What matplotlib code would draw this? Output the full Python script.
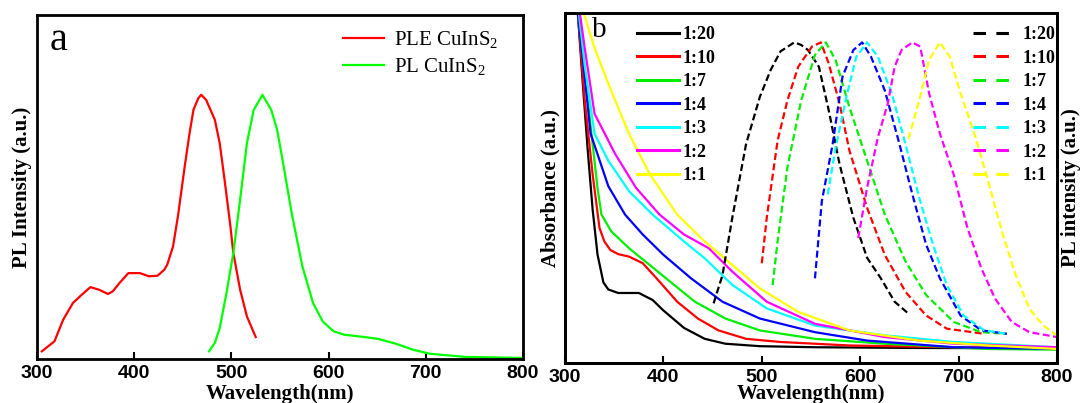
import numpy as np
import matplotlib
matplotlib.use('Agg')
import matplotlib.pyplot as plt

SERIF = 'Liberation Serif'
SANS = 'Liberation Sans'

plt.rcParams['lines.scale_dashes'] = False
plt.rcParams['font.family'] = SANS
plt.rcParams['font.weight'] = 'bold'

# ---------------------------------------------------------
# Panel a data (normalised to peak = 1)
# ---------------------------------------------------------
ple_wl = [305, 318, 327, 337, 346, 355, 364, 373, 378, 385, 394, 406, 415, 424, 431, 434,
          440, 445, 452, 457, 461, 466, 469, 474, 483, 488, 493, 499, 502, 509, 516, 525]
ple_int = [0.029, 0.067, 0.149, 0.212, 0.243, 0.272, 0.262, 0.246, 0.256, 0.288, 0.325, 0.325,
           0.313, 0.315, 0.338, 0.357, 0.426, 0.540, 0.729, 0.855, 0.943, 0.987, 1.0, 0.981,
           0.905, 0.817, 0.678, 0.502, 0.401, 0.262, 0.161, 0.083]

pl_wl = [477, 483, 488, 495, 502, 509, 516, 523, 532, 541, 547, 552, 562, 573, 584, 594,
         605, 616, 637, 651, 669, 687, 704, 740, 800]
pl_int = [0.029, 0.061, 0.117, 0.250, 0.401, 0.603, 0.817, 0.943, 1.0, 0.943, 0.868, 0.767,
          0.553, 0.351, 0.212, 0.142, 0.105, 0.092, 0.083, 0.076, 0.058, 0.035, 0.020, 0.008, 0.004]

# ---------------------------------------------------------
# Panel b data
# ---------------------------------------------------------
ratios = ['1:20', '1:10', '1:7', '1:4', '1:3', '1:2', '1:1']
colors = ['black', '#ff0000', '#00ee00', '#0000ff', '#00ffff', '#ff00ff', '#ffff00']

abs_wl = [
    [311, 313, 318, 323, 328, 333, 339, 344, 354, 375, 389, 400, 421, 442, 463, 498, 554, 650, 800],
    [311, 313, 320, 328, 335, 340, 346, 354, 365, 379, 393, 414, 435, 456, 484, 519, 589, 695, 800],
    [311, 313, 320, 328, 333, 337, 347, 365, 386, 407, 432, 463, 498, 554, 625, 730, 800],
    [311, 313, 318, 326, 344, 361, 379, 400, 428, 460, 498, 554, 607, 695, 800],
    [312, 314, 320, 330, 344, 365, 389, 421, 442, 470, 505, 554, 625, 695, 800],
    [313, 315, 320, 330, 351, 372, 396, 421, 446, 470, 505, 554, 625, 695, 800],
    [317, 319, 330, 344, 365, 386, 414, 442, 470, 498, 537, 589, 660, 730, 800],
]
abs_val = [
    [1.05, 1.0, 0.80, 0.61, 0.44, 0.31, 0.23, 0.21, 0.20, 0.20, 0.18, 0.15, 0.10, 0.069, 0.055, 0.048, 0.045, 0.043, 0.042],
    [1.05, 1.0, 0.75, 0.54, 0.386, 0.347, 0.323, 0.311, 0.304, 0.285, 0.242, 0.175, 0.127, 0.093, 0.069, 0.060, 0.050, 0.045, 0.042],
    [1.05, 1.0, 0.83, 0.626, 0.50, 0.424, 0.376, 0.328, 0.280, 0.232, 0.175, 0.127, 0.093, 0.069, 0.055, 0.040, 0.038],
    [1.05, 1.0, 0.87, 0.655, 0.505, 0.424, 0.367, 0.309, 0.242, 0.175, 0.127, 0.088, 0.064, 0.045, 0.040],
    [1.05, 1.0, 0.85, 0.655, 0.578, 0.491, 0.424, 0.347, 0.299, 0.223, 0.156, 0.107, 0.079, 0.060, 0.045],
    [1.05, 1.0, 0.90, 0.712, 0.597, 0.501, 0.424, 0.367, 0.328, 0.261, 0.175, 0.112, 0.074, 0.055, 0.045],
    [1.03, 1.0, 0.90, 0.798, 0.655, 0.54, 0.424, 0.347, 0.28, 0.213, 0.146, 0.093, 0.064, 0.050, 0.040],
]

pl_b_wl = [
    [451, 460, 470, 484, 498, 509, 519, 533, 540, 547, 558, 568, 579, 593, 607, 621, 635, 649],
    [500, 505, 516, 526, 537, 551, 560, 568, 579, 589, 607, 625, 646, 667, 688, 726],
    [511, 516, 526, 540, 554, 565, 575, 589, 607, 625, 646, 667, 695, 723, 749],
    [554, 561, 572, 582, 593, 602, 611, 625, 639, 653, 667, 681, 702, 723, 749],
    [567, 575, 586, 596, 607, 618, 632, 646, 660, 674, 688, 705, 726, 749],
    [598, 607, 618, 628, 635, 642, 653, 661, 670, 681, 695, 709, 723, 737, 754, 772, 800],
    [649, 660, 670, 681, 691, 702, 716, 730, 744, 758, 772, 786, 800],
]
pl_b_val = [
    [0.186, 0.274, 0.453, 0.683, 0.830, 0.914, 0.972, 1.0, 0.992, 0.976, 0.924, 0.788, 0.620, 0.453, 0.328, 0.264, 0.191, 0.154],
    [0.311, 0.453, 0.693, 0.819, 0.924, 0.987, 1.0, 0.934, 0.809, 0.663, 0.484, 0.337, 0.222, 0.148, 0.107, 0.091],
    [0.243, 0.379, 0.610, 0.819, 0.961, 1.0, 0.945, 0.798, 0.631, 0.463, 0.317, 0.212, 0.128, 0.096, 0.091],
    [0.264, 0.505, 0.683, 0.893, 0.976, 1.0, 0.955, 0.850, 0.693, 0.526, 0.369, 0.264, 0.148, 0.102, 0.091],
    [0.526, 0.672, 0.830, 0.955, 1.0, 0.955, 0.841, 0.683, 0.515, 0.369, 0.243, 0.148, 0.102, 0.091],
    [0.390, 0.547, 0.704, 0.809, 0.924, 0.976, 1.0, 0.987, 0.841, 0.715, 0.588, 0.421, 0.296, 0.201, 0.128, 0.096, 0.081],
    [0.699, 0.819, 0.945, 1.0, 0.955, 0.841, 0.715, 0.568, 0.410, 0.274, 0.169, 0.117, 0.086],
]

xticks = [300, 400, 500, 600, 700, 800]


def style_axis(ax):
    for sp in ax.spines.values():
        sp.set_linewidth(2)
    ax.set_xlim(300, 800)
    ax.set_xticks(xticks)
    ax.set_xticklabels([str(v) for v in xticks], fontfamily=SANS, fontweight='bold', fontsize=14)
    ax.set_yticks([])
    ax.tick_params(axis='x', direction='in', length=5, width=1.5, pad=4)


fig = plt.figure(figsize=(10.81, 4.03), dpi=100)

# ---------------------------------------------------------
# Panel a
# ---------------------------------------------------------
ax_a = fig.add_axes([0.0342, 0.1092, 0.4496, 0.8536])
ax_a.plot(ple_wl, ple_int, color='#ff0000', lw=1.6, label=r'PLE CuInS$_\mathregular{2}$')
ax_a.plot(pl_wl, pl_int, color='#00ff00', lw=1.6, label=r'PL CuInS$_\mathregular{2}$')
ax_a.set_ylim(0, 1.302)
style_axis(ax_a)
ax_a.text(0.026, 0.898, 'a', transform=ax_a.transAxes, fontsize=29, family=SERIF,
          fontweight='normal')
ax_a.text(-0.031, 0.5, 'PL Intensity (a.u.)', transform=ax_a.transAxes, rotation=90,
          ha='center', va='center', fontsize=15, fontweight='bold', family=SERIF)
ax_a.text(0.5, -0.103, 'Wavelength(nm)', transform=ax_a.transAxes, ha='center', va='center',
          fontsize=15, fontweight='bold', family=SERIF)
ax_a.legend(loc='upper left', bbox_to_anchor=(0.63, 0.958), frameon=False, borderpad=0,
            borderaxespad=0, handlelength=1.95, handletextpad=0.5, labelspacing=0.25,
            prop={'family': SERIF, 'size': 15, 'weight': 'normal'})

# ---------------------------------------------------------
# Panel b
# ---------------------------------------------------------
ax_b = fig.add_axes([0.5227, 0.0993, 0.4551, 0.8685])
ax_pl = ax_b.twinx()
for i in range(len(ratios)):
    ax_b.plot(abs_wl[i], abs_val[i], color=colors[i], lw=1.6, label=ratios[i])
for i in range(len(ratios)):
    ax_pl.plot(pl_b_wl[i], pl_b_val[i], color=colors[i], lw=1.6, dashes=(5, 2.5))
ax_b.set_ylim(0, 1.0)
ax_pl.set_ylim(0, 1.0917)
style_axis(ax_b)
ax_pl.set_yticks([])
for sp in ax_pl.spines.values():
    sp.set_linewidth(2)

ax_b.text(0.055, 0.931, 'b', transform=ax_b.transAxes, fontsize=21, family=SERIF,
          fontweight='normal')
ax_b.text(-0.030, 0.5, 'Absorbance (a.u.)', transform=ax_b.transAxes, rotation=90,
          ha='center', va='center', fontsize=15, fontweight='bold', family=SERIF)
ax_b.text(1.028, 0.5, 'PL intensity (a.u.)', transform=ax_b.transAxes, rotation=90,
          ha='center', va='center', fontsize=15, fontweight='bold', family=SERIF)
ax_b.text(0.5, -0.088, 'Wavelength(nm)', transform=ax_b.transAxes, ha='center', va='center',
          fontsize=15, fontweight='bold', family=SERIF)

leg_prop = {'family': SERIF, 'size': 13, 'weight': 'bold'}
solid_handles = [plt.Line2D([], [], color=c, lw=2.2) for c in colors]
dash_handles = [plt.Line2D([], [], color=c, lw=2.2, dashes=(9, 7.5)) for c in colors]
leg1 = ax_pl.legend(solid_handles, ratios, loc='upper left', bbox_to_anchor=(0.147, 0.962),
                    frameon=False, borderpad=0, borderaxespad=0, handlelength=2.3,
                    handletextpad=0.2, labelspacing=0.36, prop=leg_prop)
ax_pl.add_artist(leg1)
ax_pl.legend(dash_handles, ratios, loc='upper right', bbox_to_anchor=(0.996, 0.962),
             frameon=False, borderpad=0, borderaxespad=0, handlelength=2.3,
             handletextpad=0.4, labelspacing=0.36, prop=leg_prop)

fig.savefig('out.png', dpi=100)
